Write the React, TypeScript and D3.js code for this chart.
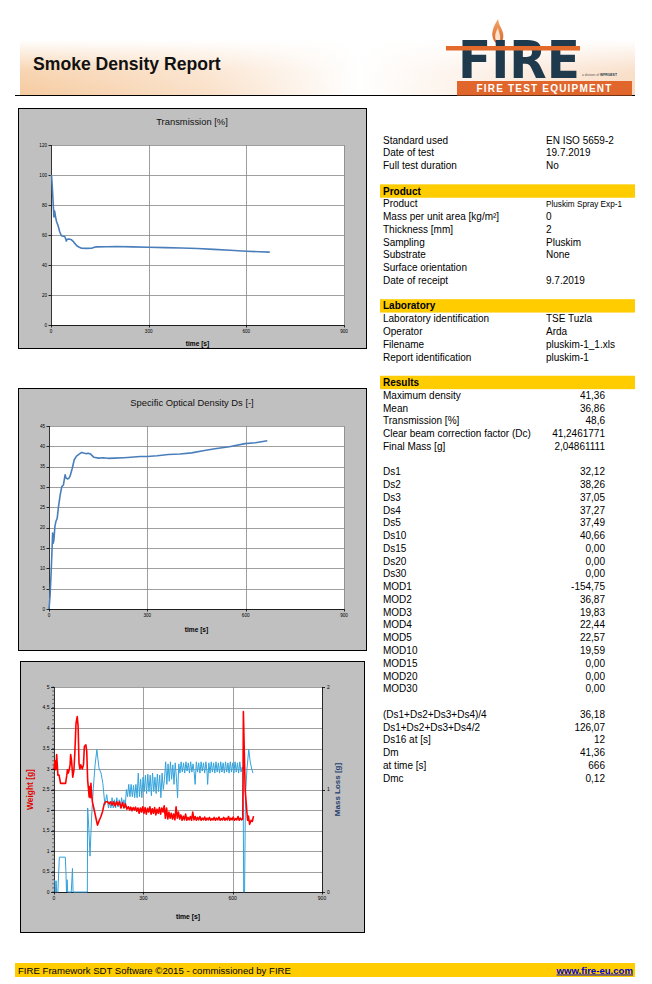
import React from 'react';
import * as d3 from 'd3';

// ---- chart data ----
const transmission: [number, number][] = [
  [0, 100], [2, 99], [5, 88], [7, 80], [9, 72], [11, 76], [12, 75], [14, 72], [17, 69], [22, 66],
  [27, 62], [32, 59.5], [38, 59.2], [42, 59], [45, 57.5], [47, 56], [50, 57.2], [55, 57.3], [63, 56.8],
  [68, 55.8], [73, 54.4], [80, 52.7], [87, 51.8], [94, 51.2], [110, 51.1], [125, 51.2], [133, 51.8],
  [140, 52.1], [170, 52.2], [200, 52.3], [250, 52.1], [300, 51.8], [350, 51.6], [400, 51.3], [450, 51],
  [500, 50.4], [550, 49.8], [600, 49.2], [640, 48.8], [672, 48.6]
];

const opticalDensity: [number, number][] = [
  [0, 0], [3, 3], [6, 8], [9, 14], [11, 18.7], [13, 16.2], [15, 17], [18, 20.3], [21, 21.5], [25, 22.3],
  [29, 25.2], [34, 28], [39, 30.1], [44, 30.5], [49, 33], [52, 32.2], [56, 32], [60, 32.1], [64, 32.6],
  [71, 34.6], [77, 36.7], [84, 37.6], [92, 38.1], [100, 38.5], [108, 38.3], [114, 38.2], [120, 38.3],
  [127, 38.1], [137, 37.3], [151, 37.1], [165, 37.2], [180, 37.05], [200, 37.1], [227, 37.2], [240, 37.27],
  [278, 37.5], [300, 37.5], [330, 37.7], [364, 38], [400, 38.1], [435, 38.4], [470, 38.9], [506, 39.4],
  [550, 39.9], [598, 40.66], [630, 40.9], [666, 41.36]
];

const weight: [number, number][] = [
  [0, 3.0], [3, 3.2], [6, 2.98], [9, 3.35], [11, 3.1], [13, 2.85], [17, 2.85], [22, 2.65], [39, 2.65],
  [43, 2.85], [45, 2.98], [48, 2.9], [51, 2.98], [54, 3.1], [56, 3.35], [59, 3.2], [63, 2.8], [67, 2.98],
  [70, 3.4], [74, 4.12], [78, 4.28], [81, 4.04], [84, 3.14], [87, 3.0], [90, 3.1], [95, 3.0], [99, 3.1],
  [102, 3.55], [107, 3.59], [110, 3.43], [113, 2.73], [116, 2.49], [118, 2.32], [120, 2.57], [122, 2.3],
  [124, 2.65], [126, 2.41], [129, 2.2], [135, 2.0], [140, 1.83], [146, 1.63], [152, 1.75], [157, 1.83],
  [163, 1.96], [169, 2.16], [174, 2.2], [180, 2.2], [185, 2.15], [190, 2.2], [195, 2.12], [200, 2.2],
  [205, 2.1], [210, 2.2], [215, 2.12], [220, 2.2], [225, 2.05], [230, 2.18], [235, 2.05], [240, 2.15],
  [245, 2.02], [250, 2.08], [254, 2.0], [258, 2.07], [262, 1.98], [266, 2.06], [270, 2.0], [274, 2.07],
  [278, 1.97], [282, 2.05], [286, 1.92], [290, 2.05], [294, 1.95], [298, 2.08], [302, 1.92], [306, 2.06],
  [310, 1.9], [314, 2.04], [318, 1.95], [322, 2.08], [326, 1.9], [330, 2.03], [334, 1.92], [338, 2.06],
  [342, 1.88], [346, 2.02], [350, 1.92], [354, 2.06], [358, 1.9], [362, 2.05], [366, 1.95], [370, 2.1],
  [374, 1.8], [378, 2.05], [382, 1.78], [386, 1.95], [390, 1.8], [394, 1.92], [398, 1.78], [402, 1.9],
  [406, 1.76], [410, 2.08], [414, 1.8], [418, 1.95], [422, 1.78], [426, 1.88], [430, 1.75], [434, 1.85],
  [438, 1.76], [442, 1.9], [446, 1.75], [450, 1.82], [454, 1.76], [458, 1.84], [462, 1.75], [466, 1.95],
  [470, 1.76], [474, 1.84], [478, 1.75], [482, 1.82], [486, 1.76], [490, 1.84], [494, 1.75], [498, 1.8],
  [502, 1.76], [506, 1.83], [510, 1.75], [514, 1.8], [518, 1.76], [522, 1.82], [526, 1.75], [530, 1.79],
  [534, 1.76], [538, 1.82], [542, 1.75], [546, 1.8], [550, 1.76], [554, 1.83], [558, 1.75], [562, 1.79],
  [566, 1.76], [570, 1.82], [574, 1.75], [578, 1.8], [582, 1.76], [586, 1.84], [590, 1.75], [594, 1.8],
  [598, 1.76], [602, 1.83], [606, 1.75], [610, 1.79], [614, 1.76], [618, 1.84], [622, 1.75], [626, 1.8],
  [630, 1.76], [634, 1.78], [636, 4.4], [642, 2.49], [650, 1.75], [653, 1.85], [657, 1.65], [662, 1.75],
  [666, 1.72], [670, 1.85]
];

const massLoss: [number, number][] = [
  [0, 0.11], [3, 0.11], [4, 0], [6, 0], [7, 0.11], [9, 0], [13, 0], [18, 0.34], [20, 0.34], [38, 0.34],
  [40, 0.2], [42, 0], [44, 0.12], [46, 0], [58, 0], [62, 0.23], [64, 0], [112, 0], [113, 0.82], [117, 0.62],
  [121, 0.35], [126, 0.72], [132, 1.01], [138, 1.24], [144, 1.39], [151, 1.21], [158, 1.16], [164, 1.06],
  [171, 0.85], [177, 0.95], [183, 0.82], [187, 0.88], [191, 0.82], [195, 0.92], [199, 0.82], [203, 0.9],
  [207, 0.82], [211, 0.92], [215, 0.83], [219, 0.9], [223, 0.82], [227, 0.92], [231, 0.84], [235, 0.9],
  [239, 0.82], [243, 1.0], [247, 0.93], [251, 1.05], [255, 0.93], [259, 1.05], [263, 0.93], [267, 1.04],
  [271, 0.92], [275, 1.05], [279, 0.92], [283, 1.16], [287, 0.93], [291, 1.1], [295, 0.92], [299, 1.12],
  [303, 0.98], [307, 1.14], [311, 0.96], [315, 1.15], [319, 0.98], [323, 1.14], [327, 0.94], [331, 1.16],
  [335, 0.98], [339, 1.12], [343, 0.96], [347, 1.15], [351, 0.98], [355, 1.14], [359, 0.92], [363, 1.16],
  [367, 1.0], [371, 1.1], [375, 1.27], [379, 1.05], [383, 1.25], [387, 1.08], [391, 1.27], [395, 1.1],
  [399, 1.24], [403, 1.05], [407, 1.26], [411, 1.12], [415, 0.92], [419, 1.25], [423, 1.16], [427, 1.27],
  [431, 1.17], [435, 1.26], [439, 1.16], [443, 1.27], [447, 1.18], [451, 1.26], [455, 1.16], [459, 1.27],
  [463, 1.17], [467, 1.25], [471, 1.16], [474, 1.05], [478, 1.27], [482, 1.17], [486, 1.26], [490, 1.16],
  [494, 1.27], [498, 1.18], [502, 1.26], [506, 1.16], [510, 1.27], [514, 1.17], [516, 1.05], [520, 1.26],
  [524, 1.16], [528, 1.27], [532, 1.17], [536, 1.26], [540, 1.16], [544, 1.27], [548, 1.17], [552, 1.26],
  [556, 1.16], [560, 1.27], [564, 1.17], [568, 1.26], [572, 1.16], [576, 1.27], [580, 1.17], [584, 1.26],
  [588, 1.16], [592, 1.27], [596, 1.17], [600, 1.26], [604, 1.16], [608, 1.27], [612, 1.17], [616, 1.26],
  [620, 1.16], [624, 1.27], [628, 1.17], [632, 1.22], [635, 1.2], [637, 0], [640, 0], [643, 0.95],
  [648, 1.2], [654, 1.39], [659, 1.27], [664, 1.2], [668, 1.16]
];

const timeTicks = [0, 300, 600, 900];
const transmissionTicks = [0, 20, 40, 60, 80, 100, 120];
const densityTicks = [0, 5, 10, 15, 20, 25, 30, 35, 40, 45];
const weightTicks = [0, 0.5, 1, 1.5, 2, 2.5, 3, 3.5, 4, 4.5, 5];
const massLossTicks = [0, 1, 2];

// ---- table data ----
const testRows = [
  ['Standard used', 'EN ISO 5659-2'],
  ['Date of test', '19.7.2019'],
  ['Full test duration', 'No']
];
const productRows = [
  ['Product', 'Pluskim Spray Exp-1'],
  ['Mass per unit area [kg/m²]', '0'],
  ['Thickness [mm]', '2'],
  ['Sampling', 'Pluskim'],
  ['Substrate', 'None'],
  ['Surface orientation', ''],
  ['Date of receipt', '9.7.2019']
];
const laboratoryRows = [
  ['Laboratory identification', 'TSE Tuzla'],
  ['Operator', 'Arda'],
  ['Filename', 'pluskim-1_1.xls'],
  ['Report identification', 'pluskim-1']
];
const resultRows = [
  ['Maximum density', '41,36'],
  ['Mean', '36,86'],
  ['Transmission [%]', '48,6'],
  ['Clear beam correction factor (Dc)', '41,2461771'],
  ['Final Mass [g]', '2,04861111']
];
const dsRows = [
  ['Ds1', '32,12'], ['Ds2', '38,26'], ['Ds3', '37,05'], ['Ds4', '37,27'], ['Ds5', '37,49'],
  ['Ds10', '40,66'], ['Ds15', '0,00'], ['Ds20', '0,00'], ['Ds30', '0,00']
];
const modRows = [
  ['MOD1', '-154,75'], ['MOD2', '36,87'], ['MOD3', '19,83'], ['MOD4', '22,44'], ['MOD5', '22,57'],
  ['MOD10', '19,59'], ['MOD15', '0,00'], ['MOD20', '0,00'], ['MOD30', '0,00']
];
const summaryRows = [
  ['(Ds1+Ds2+Ds3+Ds4)/4', '36,18'],
  ['Ds1+Ds2+Ds3+Ds4/2', '126,07'],
  ['Ds16 at [s]', '12'],
  ['Dm', '41,36'],
  ['at time [s]', '666'],
  ['Dmc', '0,12']
];

const FONT = 'Arial, "Liberation Sans", sans-serif';
const YELLOW = '#FFCC00';
const GRID = '#868686';
const PANEL = '#C0C0C0';
const LINE_BLUE = '#4A7EBB';

const fmt = (v: number) => String(v).replace('.', ',');

interface Box { left: number; top: number; right: number; bottom: number }

function SimpleChart(props: {
  panel: Box; plot: Box; title: string; titleY: number; data: [number, number][];
  yMax: number; yTicks: number[]; labelY: number;
}) {
  const { panel, plot, title, titleY, data, yMax, yTicks, labelY } = props;
  const x = d3.scaleLinear().domain([0, 900]).range([plot.left, plot.right]);
  const y = d3.scaleLinear().domain([0, yMax]).range([plot.bottom, plot.top]);
  const line = d3.line<[number, number]>().x((d) => x(d[0])).y((d) => y(d[1]));
  return (
    <g>
      <rect x={panel.left + 0.5} y={panel.top + 0.5} width={panel.right - panel.left} height={panel.bottom - panel.top}
        fill={PANEL} stroke="#000" />
      <text x={(panel.left + panel.right) / 2} y={titleY} textAnchor="middle" fontSize={9.4} fill="#111">{title}</text>
      <rect x={plot.left} y={plot.top} width={plot.right - plot.left} height={plot.bottom - plot.top} fill="#fff" />
      {yTicks.map((t) => (
        <g key={'y' + t}>
          <line x1={plot.left} x2={plot.right} y1={Math.round(y(t)) + 0.5} y2={Math.round(y(t)) + 0.5} stroke={GRID} strokeWidth={0.8} />
          <line x1={plot.left - 2.5} x2={plot.left} y1={Math.round(y(t)) + 0.5} y2={Math.round(y(t)) + 0.5} stroke="#000" strokeWidth={0.8} />
          <text x={plot.left - 4} y={y(t) + 1.6} textAnchor="end" fontSize={4.6} fill="#000">{t}</text>
        </g>
      ))}
      {timeTicks.map((t) => (
        <g key={'x' + t}>
          {t > 0 && <line x1={Math.round(x(t)) + 0.5} x2={Math.round(x(t)) + 0.5} y1={plot.top} y2={plot.bottom} stroke={GRID} strokeWidth={0.8} />}
          <line x1={Math.round(x(t)) + 0.5} x2={Math.round(x(t)) + 0.5} y1={plot.bottom} y2={plot.bottom + 2.5} stroke="#000" strokeWidth={0.8} />
          <text x={x(t)} y={plot.bottom + 8} textAnchor="middle" fontSize={4.6} fill="#000">{t}</text>
        </g>
      ))}
      <line x1={plot.left + 0.5} x2={plot.left + 0.5} y1={plot.top} y2={plot.bottom} stroke="#000" strokeWidth={0.8} />
      <line x1={plot.left} x2={plot.right} y1={plot.bottom + 0.5} y2={plot.bottom + 0.5} stroke="#000" strokeWidth={0.8} />
      <path d={line(data) ?? ''} fill="none" stroke={LINE_BLUE} strokeWidth={1.6} strokeLinejoin="round" />
      <text x={(plot.left + plot.right) / 2} y={labelY} textAnchor="middle" fontSize={6.6} fontWeight="bold" fill="#000">time [s]</text>
    </g>
  );
}

function MassChart() {
  const panel: Box = { left: 20, top: 661, right: 364, bottom: 932 };
  const plot: Box = { left: 54, top: 687, right: 322, bottom: 892 };
  const x = d3.scaleLinear().domain([0, 900]).range([plot.left, plot.right]);
  const yW = d3.scaleLinear().domain([0, 5]).range([plot.bottom, plot.top]);
  const yM = d3.scaleLinear().domain([0, 2]).range([plot.bottom, plot.top]);
  const wLine = d3.line<[number, number]>().x((d) => x(d[0])).y((d) => yW(d[1]));
  const mLine = d3.line<[number, number]>().x((d) => x(d[0])).y((d) => yM(d[1]));
  const minor = d3.range(0, 5.001, 0.1);
  const cy = (plot.top + plot.bottom) / 2;
  return (
    <g>
      <rect x={panel.left + 0.5} y={panel.top + 0.5} width={panel.right - panel.left} height={panel.bottom - panel.top}
        fill={PANEL} stroke="#000" />
      <rect x={plot.left} y={plot.top} width={plot.right - plot.left} height={plot.bottom - plot.top} fill="#fff" />
      {weightTicks.map((t) => (
        <g key={'w' + t}>
          <line x1={plot.left} x2={plot.right} y1={Math.round(yW(t)) + 0.5} y2={Math.round(yW(t)) + 0.5} stroke={GRID} strokeWidth={0.8} />
          <line x1={plot.left - 3} x2={plot.left} y1={Math.round(yW(t)) + 0.5} y2={Math.round(yW(t)) + 0.5} stroke="#000" strokeWidth={0.8} />
          <text x={plot.left - 4.5} y={yW(t) + 1.8} textAnchor="end" fontSize={5} fill="#000">{fmt(t)}</text>
        </g>
      ))}
      {minor.map((t, i) => (
        <line key={'mn' + i} x1={plot.left - 1.8} x2={plot.left} y1={yW(t)} y2={yW(t)} stroke="#000" strokeWidth={0.5} />
      ))}
      {massLossTicks.map((t) => (
        <g key={'m' + t}>
          <line x1={plot.right} x2={plot.right + 3} y1={Math.round(yM(t)) + 0.5} y2={Math.round(yM(t)) + 0.5} stroke="#000" strokeWidth={0.8} />
          <text x={plot.right + 5} y={yM(t) + 1.8} textAnchor="start" fontSize={5} fill="#000">{t}</text>
        </g>
      ))}
      {timeTicks.map((t) => (
        <g key={'x' + t}>
          {t > 0 && t < 900 && <line x1={Math.round(x(t)) + 0.5} x2={Math.round(x(t)) + 0.5} y1={plot.top} y2={plot.bottom} stroke={GRID} strokeWidth={0.8} />}
          <line x1={Math.round(x(t)) + 0.5} x2={Math.round(x(t)) + 0.5} y1={plot.bottom} y2={plot.bottom + 2.5} stroke="#000" strokeWidth={0.8} />
          <text x={x(t)} y={plot.bottom + 8} textAnchor="middle" fontSize={5} fill="#000">{t}</text>
        </g>
      ))}
      <line x1={plot.left + 0.5} x2={plot.left + 0.5} y1={plot.top} y2={plot.bottom} stroke="#000" strokeWidth={0.8} />
      <line x1={plot.right + 0.5} x2={plot.right + 0.5} y1={plot.top} y2={plot.bottom} stroke="#000" strokeWidth={0.8} />
      <line x1={plot.left} x2={plot.right} y1={plot.bottom + 0.5} y2={plot.bottom + 0.5} stroke="#000" strokeWidth={0.8} />
      <path d={mLine(massLoss) ?? ''} fill="none" stroke="#33A3DC" strokeWidth={1} strokeLinejoin="round" />
      <path d={wLine(weight) ?? ''} fill="none" stroke="#FF0000" strokeWidth={1.6} strokeLinejoin="round" />
      <text x={(plot.left + plot.right) / 2} y={plot.bottom + 26.5} textAnchor="middle" fontSize={6.8} fontWeight="bold" fill="#000">time [s]</text>
      <text transform={`translate(33,${cy}) rotate(-90)`} textAnchor="middle" fontSize={8.4} fontWeight="bold" fill="#E00000">Weight [g]</text>
      <text transform={`translate(340,${cy}) rotate(-90)`} textAnchor="middle" fontSize={8} fontWeight="bold" fill="#1F3F6E">Mass Loss [g]</text>
    </g>
  );
}

function InfoTable() {
  const top = 140;
  const pitch = 12.76;
  const labelX = 383;
  const valueX = 546;
  const resultX = 605;
  type Item = { kind: 'row' | 'head' | 'gap'; label?: string; value?: string; right?: boolean; small?: boolean };
  const items: Item[] = [];
  testRows.forEach(([l, v]) => items.push({ kind: 'row', label: l, value: v }));
  items.push({ kind: 'gap' });
  items.push({ kind: 'head', label: 'Product' });
  productRows.forEach(([l, v], i) => items.push({ kind: 'row', label: l, value: v, small: i === 0 }));
  items.push({ kind: 'gap' });
  items.push({ kind: 'head', label: 'Laboratory' });
  laboratoryRows.forEach(([l, v]) => items.push({ kind: 'row', label: l, value: v }));
  items.push({ kind: 'gap' });
  items.push({ kind: 'head', label: 'Results' });
  resultRows.forEach(([l, v]) => items.push({ kind: 'row', label: l, value: v, right: true }));
  items.push({ kind: 'gap' });
  [...dsRows, ...modRows].forEach(([l, v]) => items.push({ kind: 'row', label: l, value: v, right: true }));
  items.push({ kind: 'gap' });
  summaryRows.forEach(([l, v]) => items.push({ kind: 'row', label: l, value: v, right: true }));

  return (
    <g fontSize={10} fill="#000">
      {items.map((it, i) => {
        const cy = top + i * pitch;
        if (it.kind === 'gap') return null;
        if (it.kind === 'head') {
          return (
            <g key={i}>
              <rect x={380} y={cy - 6.7} width={255} height={13.4} fill={YELLOW} />
              <text x={labelX} y={cy + 3.6} fontWeight="bold">{it.label}</text>
            </g>
          );
        }
        return (
          <g key={i}>
            <text x={labelX} y={cy + 3.6}>{it.label}</text>
            <text x={it.right ? resultX : valueX} y={cy + (it.small ? 3 : 3.6)} textAnchor={it.right ? 'end' : 'start'}
              fontSize={it.small ? 8.2 : 10}>{it.value}</text>
          </g>
        );
      })}
    </g>
  );
}

function Header() {
  return (
    <g>
      <defs>
        <linearGradient id="band" x1="0" x2="1" y1="0" y2="0">
          <stop offset="0" stopColor="#F6CBA0" />
          <stop offset="0.3" stopColor="#FAE0C8" />
          <stop offset="0.55" stopColor="#FFFFFF" />
          <stop offset="0.8" stopColor="#FCEBDD" />
          <stop offset="1" stopColor="#F8D9BF" />
        </linearGradient>
        <linearGradient id="fade" x1="0" x2="0" y1="0" y2="1">
          <stop offset="0" stopColor="#fff" stopOpacity="1" />
          <stop offset="0.55" stopColor="#fff" stopOpacity="0.2" />
          <stop offset="1" stopColor="#fff" stopOpacity="0" />
        </linearGradient>
        <linearGradient id="flame" x1="0" x2="0" y1="0" y2="1">
          <stop offset="0" stopColor="#F4A86A" />
          <stop offset="1" stopColor="#D9622B" />
        </linearGradient>
      </defs>
      <rect x={20} y={40} width={615} height={55} fill="url(#band)" />
      <rect x={20} y={40} width={615} height={55} fill="url(#fade)" />
      <text x={33} y={70} fontSize={17.6} fontWeight="bold" fill="#111">Smoke Density Report</text>
      <line x1={15} x2={635} y1={95.5} y2={95.5} stroke="#000" strokeWidth={1} />
      {/* logo */}
      <path d="M497 44 C490 38 491 30 498 19 C499 27 505 31 503 39 C502 42 500 44 497 44 Z" fill="url(#flame)" />
      <path d="M497 42 C494 38 495 33 498 28 C499 33 501 36 500 40 Z" fill="#FBE2CC" />
      <text x={458} y={78} fontSize={52} fontWeight="bold" fill="#1E3A4C" textLength={122} lengthAdjust="spacingAndGlyphs"
        fontFamily='"Liberation Sans Narrow", "DejaVu Sans Condensed", Arial, sans-serif'>FIRE</text>
      <rect x={446} y={46} width={134} height={4.5} fill="#E36A2B" />
      <text x={582} y={76} fontSize={3.2} fill="#555">a division of </text>
      <text x={600} y={76} fontSize={3.4} fontWeight="bold" fill="#1E3A4C">WFRGEST</text>
      <rect x={457} y={81} width={175} height={14.5} fill="#E0662C" />
      <text x={544.5} y={92} textAnchor="middle" fontSize={10} fontWeight="bold" fill="#fff" letterSpacing={1.2}>FIRE TEST EQUIPMENT</text>
    </g>
  );
}

function Footer() {
  return (
    <g>
      <rect x={15} y={963} width={620} height={14} fill={YELLOW} />
      <text x={18} y={973.5} fontSize={9.6} fill="#000">FIRE Framework SDT Software ©2015 - commissioned by FIRE</text>
      <text x={633} y={973.5} fontSize={9.6} fontWeight="bold" fill="#0000CC" textAnchor="end" textDecoration="underline">www.fire-eu.com</text>
    </g>
  );
}

export default function App(): JSX.Element {
  return (
    <div style={{ position: 'absolute', left: 0, top: 0 }}>
      <svg width={652} height={984} style={{ display: 'block', fontFamily: FONT }}>
        <rect width={652} height={984} fill="#fff" />
        <Header />
        <SimpleChart
          panel={{ left: 18, top: 108, right: 366, bottom: 348 }}
          plot={{ left: 51, top: 145, right: 344, bottom: 325 }}
          title="Transmission [%]" titleY={124.5}
          data={transmission} yMax={120} yTicks={transmissionTicks} labelY={345.5}
        />
        <SimpleChart
          panel={{ left: 18, top: 388, right: 366, bottom: 650 }}
          plot={{ left: 49, top: 426, right: 344, bottom: 609 }}
          title="Specific Optical Density Ds [-]" titleY={405.5}
          data={opticalDensity} yMax={45} yTicks={densityTicks} labelY={631.5}
        />
        <MassChart />
        <InfoTable />
        <Footer />
      </svg>
    </div>
  );
}
